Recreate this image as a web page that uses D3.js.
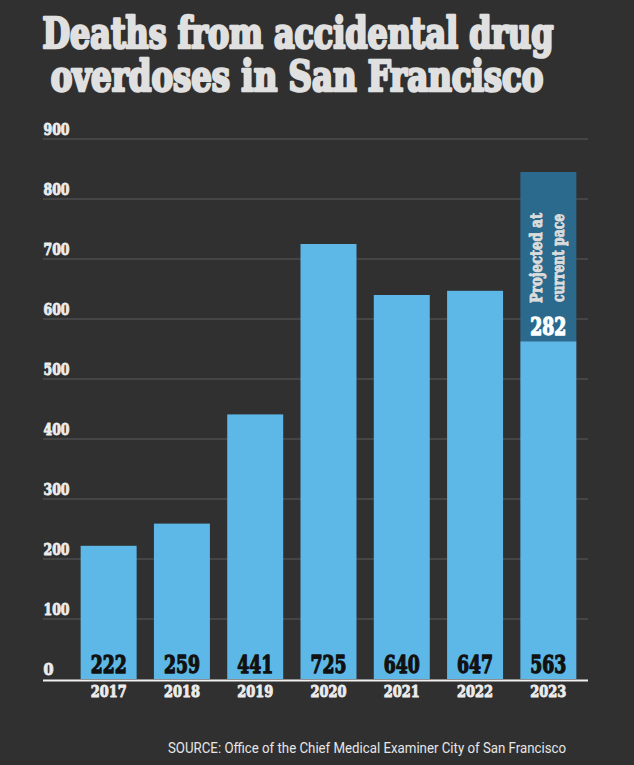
<!DOCTYPE html>
<html><head><meta charset="utf-8">
<script src="https://cdn.jsdelivr.net/npm/d3@7"></script>
<style>
html,body{margin:0;padding:0;background:#303030;}
svg{display:block;}
</style></head>
<body>
<script>
const years = ["2017","2018","2019","2020","2021","2022","2023"];
const deaths = [222, 259, 441, 725, 640, 647, 563];
const projectedExtra = [0, 0, 0, 0, 0, 0, 282];
const yTicks = [0, 100, 200, 300, 400, 500, 600, 700, 800, 900];
const titleLines = ["Deaths from accidental drug", "overdoses in San Francisco"];
const projectedLabel = ["Projected at", "current pace"];
const sourceText = "SOURCE: Office of the Chief Medical Examiner City of San Francisco";

const W = 634, H = 765;
const slab = "'DejaVu Serif Condensed','DejaVu Serif',serif";
const svg = d3.select("body").append("svg").attr("width", W).attr("height", H);
svg.append("rect").attr("width", W).attr("height", H).attr("fill", "#303030");

function heavy(sel, color, sw) {
  return sel.attr("fill", color).attr("stroke", color).attr("stroke-width", sw)
    .attr("stroke-linejoin", "round");
}

// title: size chosen so the natural width fits, then stretched vertically
const titleY = [48, 91];
const titleW = [511, 493];
const titleCx = [298, 297];
titleLines.forEach((t, i) => {
  const g = svg.append("g");
  const tx = heavy(g.append("text").attr("text-anchor", "middle")
    .attr("font-family", slab).attr("font-weight", "bold").attr("font-size", 42), "#e0e0e0", 2.4)
    .text(t);
  const w0 = tx.node().getComputedTextLength();
  const f = 42 * titleW[i] / w0;
  const sy = 42 / f;
  tx.attr("font-size", f).attr("stroke-width", 2.4 / Math.sqrt(sy));
  g.attr("transform", `translate(${titleCx[i]},${titleY[i]}) scale(1,${sy})`);
});

const x = d3.scaleBand().domain(years).range([72, 585]).paddingInner(0.236).paddingOuter(0.118);
const y = d3.scaleLinear().domain([0, 900]).range([679, 139]);

// gridlines and tick labels
const gx0 = 43, gx1 = 588;
yTicks.forEach(t => {
  if (t > 0) {
    svg.append("line").attr("x1", gx0).attr("x2", gx1).attr("y1", y(t)).attr("y2", y(t))
      .attr("stroke", "#5a5a5a").attr("stroke-width", 1);
  }
  const tt = svg.append("text").attr("x", gx0 + 0.5).attr("y", y(t) - 4.5)
    .attr("font-family", slab).attr("font-weight", "bold").attr("font-size", 16)
    .text(t);
  heavy(tt, "#ececec", 0.9);
  if (t > 0) tt.attr("textLength", 26).attr("lengthAdjust", "spacingAndGlyphs");
});

// bars
svg.selectAll("rect.bar").data(years).enter().append("rect").attr("class", "bar")
  .attr("x", d => x(d)).attr("width", x.bandwidth())
  .attr("y", (d, i) => y(deaths[i])).attr("height", (d, i) => y(0) - y(deaths[i]))
  .attr("fill", "#5db7e7");

// projected bars
years.forEach((d, i) => {
  if (projectedExtra[i] > 0) {
    const top = deaths[i] + projectedExtra[i];
    svg.append("rect").attr("x", x(d)).attr("width", x.bandwidth())
      .attr("y", y(top)).attr("height", y(deaths[i]) - y(top)).attr("fill", "#2b6a8c");
    const cx = x(d) + x.bandwidth() / 2;
    heavy(svg.append("text").attr("x", cx).attr("y", y(deaths[i]) - 6).attr("text-anchor", "middle")
      .attr("font-family", slab).attr("font-weight", "bold").attr("font-size", 25), "#ffffff", 1.3)
      .attr("textLength", 36).attr("lengthAdjust", "spacingAndGlyphs")
      .text(projectedExtra[i]);
    const midY = 258;
    projectedLabel.forEach((l, j) => {
      heavy(svg.append("text").attr("transform", `translate(${cx - 6 + j * 22},${midY}) rotate(-90)`)
        .attr("text-anchor", "middle")
        .attr("font-family", slab).attr("font-weight", "bold").attr("font-size", 17), "#dcdcdc", 0.9)
        .attr("textLength", j === 0 ? 90 : 88).attr("lengthAdjust", "spacingAndGlyphs")
        .text(l);
    });
  }
});

// value labels
heavy(svg.selectAll("text.val").data(years).enter().append("text").attr("class", "val")
  .attr("x", d => x(d) + x.bandwidth() / 2).attr("y", 673).attr("text-anchor", "middle")
  .attr("font-family", slab).attr("font-weight", "bold").attr("font-size", 25), "#111", 1.3)
  .attr("textLength", 36).attr("lengthAdjust", "spacingAndGlyphs")
  .text((d, i) => deaths[i]);

// baseline
svg.append("line").attr("x1", gx0).attr("x2", gx1).attr("y1", y(0) + 1.5).attr("y2", y(0) + 1.5)
  .attr("stroke", "#f0f0f0").attr("stroke-width", 2);

// x axis labels
heavy(svg.selectAll("text.year").data(years).enter().append("text").attr("class", "year")
  .attr("x", d => x(d) + x.bandwidth() / 2).attr("y", 697).attr("text-anchor", "middle")
  .attr("font-family", slab).attr("font-weight", "bold").attr("font-size", 16), "#ececec", 0.9)
  .attr("textLength", 36).attr("lengthAdjust", "spacingAndGlyphs")
  .text(d => d);

// source
svg.append("text").attr("x", 168).attr("y", 753)
  .attr("font-family", "Roboto, sans-serif").attr("font-size", 15)
  .attr("fill", "#e6e6e6").attr("textLength", 398).attr("lengthAdjust", "spacingAndGlyphs")
  .text(sourceText);
</script>
</body></html>
